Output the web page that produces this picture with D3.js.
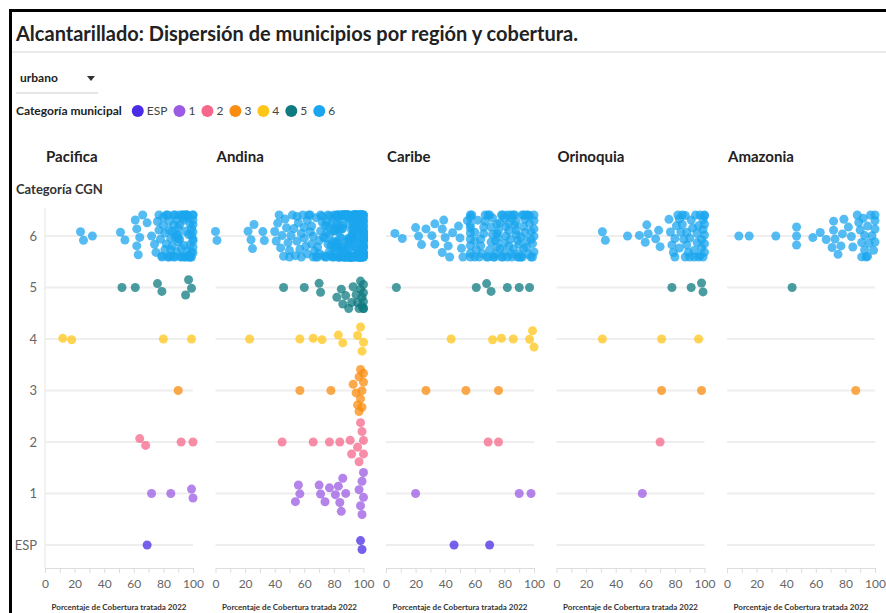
<!DOCTYPE html>
<html>
<head>
<meta charset="utf-8">
<script src="https://cdn.jsdelivr.net/npm/d3@7"></script>
<style>
  body { margin: 0; background: #fff; }
  svg { display: block; font-family: Lato, "Open Sans", sans-serif; }
  .tick text { fill: #666; }
</style>
</head>
<body>
<svg id="chart"></svg>
<script>
// Regions (panels), CGN categories (rows) and x ticks
const regions = ["Pacifica", "Andina", "Caribe", "Orinoquia", "Amazonia"];
const categories = ["6", "5", "4", "3", "2", "1", "ESP"];
const legendCategories = ["ESP", "1", "2", "3", "4", "5", "6"];
const categoryColors = ["#4a2be6", "#9b5be3", "#f5678b", "#fa8c0f", "#ffc61a", "#0f7b80", "#1ba5ee"];
const xTicks = [0, 20, 40, 60, 80, 100];

// Porcentaje de cobertura tratada 2022, urbano
const pacifica6 = [24,26,32,51,54,61,62,62,63,64,66,69,72,74,75,76,77,77,78,79,79,80,80,81,81,82,82,83,83,84,84,84,85,85,85,86,86,87,87,87,88,88,88,89,89,89,90,90,90,90,91,91,91,92,92,92,93,93,93,94,94,94,95,95,95,95,96,96,96,97,97,97,97,98,98,98,98,99,99,99,99,100,100,100,100,100,100,100,100,100];
const pacifica5 = [52,61,76,79,95,97,99];
const pacifica4 = [12,18,80,99];
const pacifica3 = [90];
const pacifica2 = [64,68,92,100];
const pacifica1 = [72,85,99,100];
const pacificaESP = [69];

const andina6 = [0,1,22,24,25,26,32,33,40,41,42,43,44,45,46,47,48,49,50,50,51,52,53,54,55,55,56,57,58,58,59,60,60,61,62,62,63,64,64,65,65,66,66,67,68,68,69,69,70,70,71,71,72,72,73,73,74,74,74,75,75,75,76,76,76,77,77,77,78,78,78,79,79,79,
  80,80,80,80,80,80,81,81,81,81,81,82,82,82,82,82,82,83,83,83,83,83,83,84,84,84,84,84,84,85,85,85,85,85,85,85,86,86,86,86,86,86,87,87,87,87,87,87,88,88,88,88,88,88,88,89,89,89,89,89,89,
  90,90,90,90,90,90,90,90,90,91,91,91,91,91,91,91,91,92,92,92,92,92,92,92,92,92,93,93,93,93,93,93,93,93,94,94,94,94,94,94,94,94,94,95,95,95,95,95,95,95,95,95,95,96,96,96,96,96,96,96,96,96,97,97,97,97,97,97,97,97,97,98,98,98,98,98,98,98,98,98,98,99,99,99,99,99,99,99,99,99,99,
  100,100,100,100,100,100,100,100,100,100,100,100,100,100,100,100,100,100,100,100,100,100,100,100,100,100,100,100,100,100];
const andina5 = [46,60,70,71,82,85,86,88,90,92,93,95,96,97,98,98,99,99,100,100,100,100,100];
const andina4 = [23,57,66,72,83,86,96,98,99,100];
const andina3 = [57,78,93,95,96,97,97,98,98,99,99,100,100];
const andina2 = [45,66,77,84,91,92,96,97,98,99,100,100];
const andina1 = [54,56,57,70,71,74,77,81,83,84,85,86,88,97,98,99,99,100,100];
const andinaESP = [98,99];

const caribe6 = [6,11,20,22,24,27,31,33,33,38,38,39,40,42,43,45,49,50,51,52,55,57,57,57,57,57,57,57,57,57,58,60,60,60,61,62,63,64,64,65,66,66,67,67,68,69,69,70,70,71,71,72,72,73,73,74,74,75,75,75,76,76,77,77,78,78,79,79,80,80,80,81,81,82,82,83,83,83,84,84,85,85,85,86,86,87,87,88,88,88,89,89,90,90,90,91,91,92,92,93,93,93,94,94,95,95,95,96,96,97,97,98,98,98,99,99,100,100,100,100,100];
const caribe5 = [7,61,68,71,82,90,97];
const caribe4 = [44,72,78,86,97,99,100];
const caribe3 = [27,54,76];
const caribe2 = [69,76];
const caribe1 = [20,90,98];
const caribeESP = [46,70];

const orinoquia6 = [31,33,48,56,60,61,62,67,69,70,76,77,78,79,80,80,81,82,83,83,84,85,85,86,87,87,88,88,89,90,90,91,92,93,93,94,95,95,96,96,97,97,98,98,99,99,99,100,100,100,100,100,100];
const orinoquia5 = [78,91,98,99];
const orinoquia4 = [31,71,96];
const orinoquia3 = [71,98];
const orinoquia2 = [70];
const orinoquia1 = [58];
const orinoquiaESP = [];

const amazonia6 = [8,15,33,47,47,47,58,63,67,71,72,72,73,75,77,78,79,82,84,85,88,89,90,91,91,92,93,93,94,95,95,96,97,98,99,100,100,100,100];
const amazonia5 = [44];
const amazonia4 = [];
const amazonia3 = [87];
const amazonia2 = [];
const amazonia1 = [];
const amazoniaESP = [];

// Build a flat table: one row per municipio
const valuesByRegion = {
  Pacifica: [pacifica6, pacifica5, pacifica4, pacifica3, pacifica2, pacifica1, pacificaESP],
  Andina: [andina6, andina5, andina4, andina3, andina2, andina1, andinaESP],
  Caribe: [caribe6, caribe5, caribe4, caribe3, caribe2, caribe1, caribeESP],
  Orinoquia: [orinoquia6, orinoquia5, orinoquia4, orinoquia3, orinoquia2, orinoquia1, orinoquiaESP],
  Amazonia: [amazonia6, amazonia5, amazonia4, amazonia3, amazonia2, amazonia1, amazoniaESP]
};
const data = [];
regions.forEach(region => {
  valuesByRegion[region].forEach((vals, i) => {
    vals.forEach(v => data.push({ region: region, cat: categories[i], value: v }));
  });
});

class Beeswarm {
  constructor(_config, _data) {
    this.config = {
      parentElement: _config.parentElement,
      containerWidth: 886,
      containerHeight: 613,
      radius: 4.5,
      band: 21
    };
    this.data = _data;
    this.initVis();
  }

  initVis() {
    let vis = this;

    vis.svg = d3.select(vis.config.parentElement)
      .attr("width", vis.config.containerWidth)
      .attr("height", vis.config.containerHeight);

    // frame + header
    vis.svg.append("rect").attr("x", 9).attr("y", 9).attr("width", 880).attr("height", 3).attr("fill", "#000");
    vis.svg.append("rect").attr("x", 9).attr("y", 9).attr("width", 3).attr("height", 610).attr("fill", "#000");

    vis.svg.append("text")
      .attr("x", 16).attr("y", 34).attr("dy", "0.35em")
      .style("font-size", "20px").style("font-weight", "bold").attr("fill", "#222")
      .text("Alcantarillado: Dispersión de municipios por región y cobertura.");

    vis.svg.append("line")
      .attr("x1", 12).attr("x2", 886).attr("y1", 52).attr("y2", 52)
      .attr("stroke", "#e5e5e5").attr("stroke-width", 1.5);

    // dropdown
    vis.svg.append("text")
      .attr("x", 20).attr("y", 78).attr("dy", "0.35em")
      .style("font-size", "12px").style("font-weight", "bold").attr("fill", "#222")
      .text("urbano");
    vis.svg.append("path")
      .attr("d", "M87,76 L95,76 L91,81 Z").attr("fill", "#333");
    vis.svg.append("line")
      .attr("x1", 16).attr("x2", 98).attr("y1", 93).attr("y2", 93)
      .attr("stroke", "#ccc");

    vis.color = d3.scaleOrdinal().domain(legendCategories).range(categoryColors);

    // legend
    const legend = vis.svg.append("g").attr("transform", "translate(16,111)");
    const legendTitle = legend.append("text")
      .attr("dy", "0.35em")
      .style("font-size", "12px").style("font-weight", "bold").attr("fill", "#222")
      .text("Categoría municipal");
    let lx = legendTitle.node().getComputedTextLength() + 10;
    legendCategories.forEach(c => {
      legend.append("circle").attr("cx", lx + 6).attr("cy", 0).attr("r", 6).attr("fill", vis.color(c));
      const t = legend.append("text")
        .attr("x", lx + 15).attr("dy", "0.35em")
        .style("font-size", "12px").attr("fill", "#444")
        .text(c);
      lx += 15 + t.node().getComputedTextLength() + 6;
    });

    vis.svg.append("text")
      .attr("x", 16).attr("y", 189).attr("dy", "0.35em")
      .style("font-size", "13px").style("font-weight", "bold").attr("fill", "#333")
      .text("Categoría CGN");

    // scales
    vis.panelScale = d3.scaleBand().domain(regions).range([45, 875]).paddingInner(0.132);
    vis.yScale = d3.scalePoint().domain(categories).range([236, 545]);

    vis.yAxisGroup = vis.svg.append("g")
      .attr("transform", "translate(45,0)")
      .call(d3.axisLeft(vis.yScale).tickSize(0).tickPadding(8));
    vis.yAxisGroup.select(".domain").remove();
    vis.yAxisGroup.selectAll("text").style("font-size", "13px").style("font-family", "Lato, sans-serif").attr("fill", "#555");

    vis.svg.append("line")
      .attr("x1", 45).attr("x2", 45).attr("y1", 208).attr("y2", 568)
      .attr("stroke", "#eee").attr("stroke-width", 1.5);

    vis.updateVis();
  }

  updateVis() {
    let vis = this;
    vis.panels = regions.map(region => {
      const x0 = vis.panelScale(region);
      const xScale = d3.scaleLinear().domain([0, 100]).range([x0, x0 + vis.panelScale.bandwidth()]);
      const nodes = vis.data.filter(d => d.region === region).map((d, i) => ({
        ...d,
        fx: xScale(d.value),
        x: xScale(d.value),
        y: vis.yScale(d.cat) + ((i % 5) - 2) * 0.5
      }));

      // x stays on the value; the swarm spreads only vertically inside the row band
      const sim = d3.forceSimulation(nodes)
        .force("y", d3.forceY(d => vis.yScale(d.cat)).strength(0.05))
        .force("collide", d3.forceCollide(vis.config.radius).strength(0.7).iterations(2))
        .stop();
      for (let i = 0; i < 300; i++) {
        sim.tick();
        nodes.forEach(d => {
          const cy = vis.yScale(d.cat);
          d.y = Math.max(cy - vis.config.band, Math.min(cy + vis.config.band, d.y));
        });
      }
      return { region, xScale, nodes };
    });
    vis.renderVis();
  }

  renderVis() {
    let vis = this;
    vis.panels.forEach(p => {
      const g = vis.svg.append("g").attr("class", "panel");

      g.append("text")
        .attr("x", p.xScale(0) + 1).attr("y", 157).attr("dy", "0.35em")
        .style("font-size", "15px").style("font-weight", "bold").attr("fill", "#222")
        .text(p.region);

      g.selectAll(".grid")
        .data(categories)
        .join("line")
        .attr("class", "grid")
        .attr("x1", p.xScale(0)).attr("x2", p.xScale(100))
        .attr("y1", d => vis.yScale(d)).attr("y2", d => vis.yScale(d))
        .attr("stroke", "#eee").attr("stroke-width", 2);

      const xAxisGroup = g.append("g")
        .attr("transform", "translate(0,568)")
        .call(d3.axisBottom(p.xScale).tickValues(xTicks).tickSize(0).tickPadding(11));
      xAxisGroup.select(".domain").attr("stroke", "#ddd");
      xAxisGroup.selectAll("text").style("font-size", "12px").style("font-family", "Lato, sans-serif");
      g.append("g")
        .attr("transform", "translate(0,568)")
        .call(d3.axisBottom(p.xScale).ticks(10).tickSize(5).tickFormat(""))
        .call(a => a.select(".domain").remove())
        .selectAll("line").attr("stroke", "#ddd");

      g.append("text")
        .attr("x", (p.xScale(0) + p.xScale(100)) / 2).attr("y", 607).attr("dy", "0.35em")
        .attr("text-anchor", "middle")
        .style("font-size", "8px").style("font-weight", "bold").attr("fill", "#333")
        .text("Porcentaje de Cobertura tratada 2022");

      g.selectAll(".dot")
        .data(p.nodes)
        .join("circle")
        .attr("class", "dot")
        .attr("cx", d => d.x)
        .attr("cy", d => d.y)
        .attr("r", vis.config.radius)
        .attr("fill", d => vis.color(d.cat))
        .attr("fill-opacity", 0.75);
    });
  }
}

new Beeswarm({ parentElement: "#chart" }, data);
</script>
</body>
</html>
